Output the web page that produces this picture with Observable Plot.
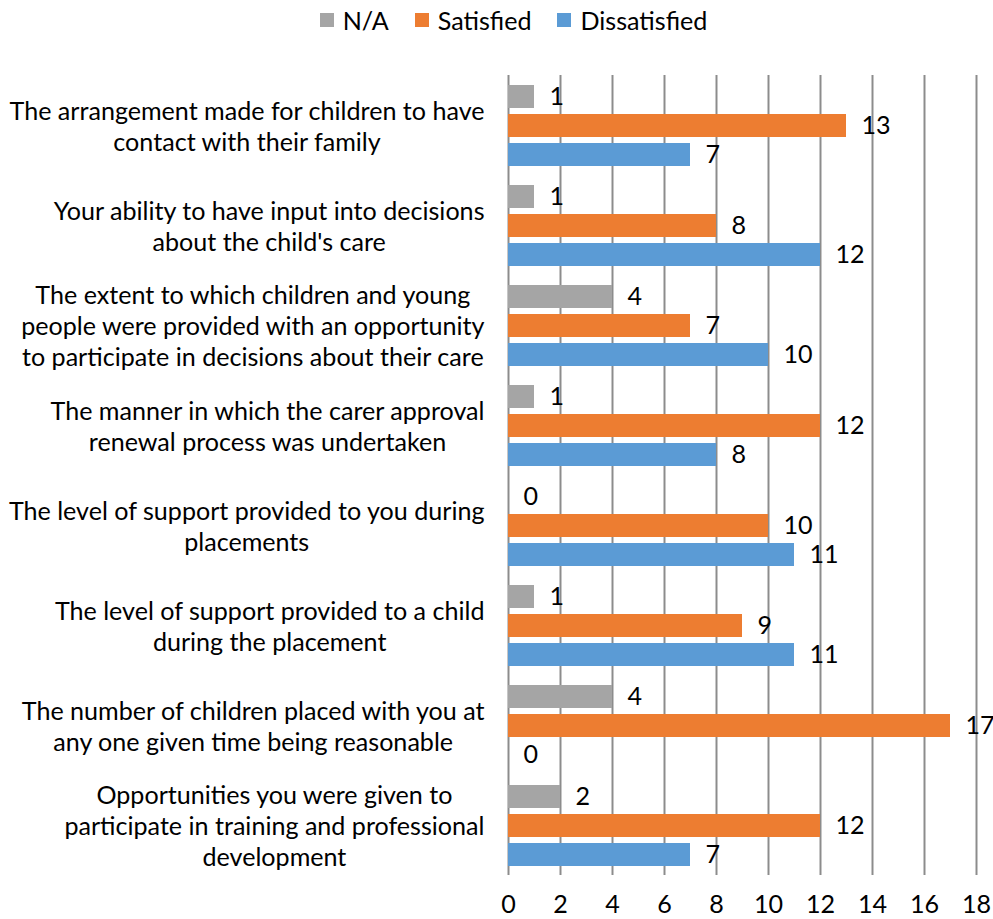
<!DOCTYPE html>
<html><head><meta charset="utf-8">
<script src="https://cdn.jsdelivr.net/npm/d3@7"></script>
<script src="https://cdn.jsdelivr.net/npm/@observablehq/plot@0.6"></script>
<style>
body{margin:0;background:#fff;font-family:Lato,sans-serif;color:#000;}
#legend{height:40px;width:993px;display:flex;align-items:center;justify-content:center;padding-left:34px;box-sizing:border-box;}
.item{display:flex;align-items:center;margin:0 13px;}
.sw{width:14px;height:14px;margin-right:9px;}
</style></head><body>
<div id="legend"></div>
<div id="chart"></div>
<script>
const categories = [
  "The arrangement made for children to have\ncontact with their family",
  "Your ability to have input into decisions\nabout the child's care",
  "The extent to which children and young\npeople were provided with an opportunity\nto participate in decisions about their care",
  "The manner in which the carer approval\nrenewal process was undertaken",
  "The level of support provided to you during\nplacements",
  "The level of support provided to a child\nduring the placement",
  "The number of children placed with you at\nany one given time being reasonable",
  "Opportunities you were given to\nparticipate in training and professional\ndevelopment"
];
const series = ["N/A", "Satisfied", "Dissatisfied"];
const naValues = [1, 1, 4, 1, 0, 1, 4, 2];
const satisfiedValues = [13, 8, 7, 12, 10, 9, 17, 12];
const dissatisfiedValues = [7, 12, 10, 8, 11, 11, 0, 7];
const xTicks = [0, 2, 4, 6, 8, 10, 12, 14, 16, 18];
const seriesColors = ["#A5A5A5", "#ED7D31", "#5B9BD5"];

const seriesValues = [naValues, satisfiedValues, dissatisfiedValues];
const rows = [];
categories.forEach((c, i) => series.forEach((s, j) => rows.push({category: c, series: s, value: seriesValues[j][i]})));

// pick a font size so the substitute font matches the reference text width
const ctx = document.createElement("canvas").getContext("2d");
ctx.font = "100px Lato";
const w100 = ctx.measureText("The arrangement made for children to have").width;
const fs = Math.round(100 * 475 / w100 * 10) / 10;

// legend
const legend = document.getElementById("legend");
legend.style.fontSize = fs + "px";
series.forEach((s, j) => {
  const it = document.createElement("div"); it.className = "item";
  const sw = document.createElement("div"); sw.className = "sw"; sw.style.background = seriesColors[j];
  const tx = document.createElement("span"); tx.textContent = s;
  it.append(sw, tx); legend.append(it);
});

const svg = Plot.plot({
  width: 993,
  height: 879,
  marginTop: 35,
  marginBottom: 44,
  marginLeft: 508,
  marginRight: 17,
  style: {fontFamily: "Lato", fontSize: fs + "px", color: "#000", background: "#fff", overflow: "visible"},
  x: {domain: [0, 18], ticks: xTicks, tickSize: 0, tickPadding: 20, label: null, line: false},
  y: {domain: series, axis: null, paddingInner: 0.21, paddingOuter: 0.29},
  fy: {domain: categories, axis: null, padding: 0},
  color: {domain: series, range: seriesColors},
  marks: [
    Plot.ruleX(xTicks, {stroke: "#8c8c8c", strokeWidth: 2}),
    Plot.barX(rows, {fy: "category", y: "series", x: "value", fill: "series"}),
    Plot.text(rows, {fy: "category", y: "series", x: "value", text: d => String(d.value), textAnchor: "start", dx: 15, fill: "#000"}),
    Plot.text(categories, {fy: d => d, text: d => d, frameAnchor: "left", dx: -250, textAnchor: "middle", lineHeight: 31 / fs, fill: "#000"})
  ]
});
document.getElementById("chart").append(svg);

// right-align the centered multi-line category labels as a block
svg.querySelectorAll("text").forEach(t => {
  if (!t.querySelector("tspan")) return;
  const w = t.getBBox().width;
  const shift = 484 - w / 2 - 258;
  t.setAttribute("transform", `translate(${shift},0) ` + (t.getAttribute("transform") || ""));
});
</script>
</body></html>
